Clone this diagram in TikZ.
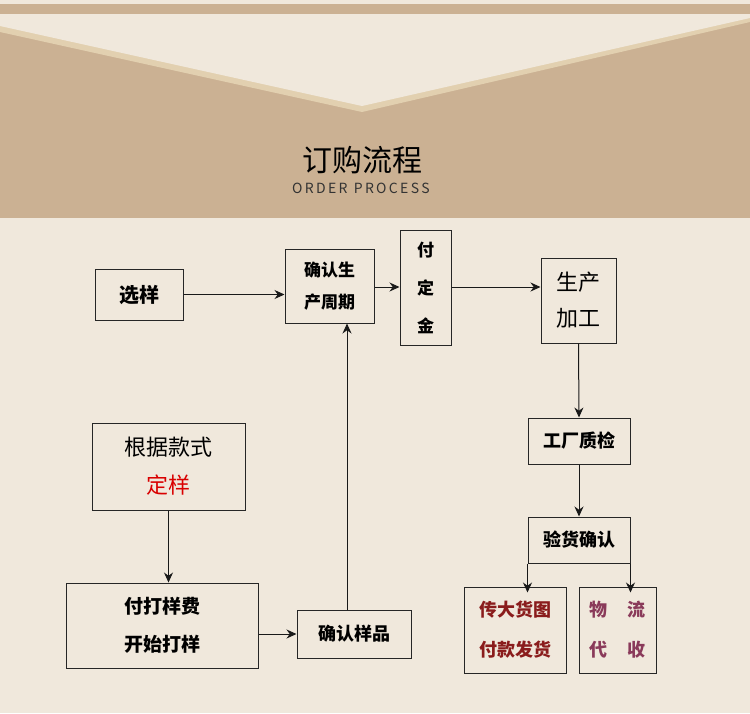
\documentclass[tikz,border=0pt]{standalone}
\usepackage{fontspec}
\setmainfont{Noto Sans CJK SC}
\usetikzlibrary{arrows.meta}
\definecolor{bg}{HTML}{F0E8DC}
\definecolor{tan}{HTML}{CBB193}
\definecolor{edge}{HTML}{E2D0B0}
\definecolor{dred}{HTML}{8A1C1C}
\definecolor{purp}{HTML}{8A3A5A}
\tikzset{
 bx/.style={draw=black!85,line width=1pt,inner sep=0pt,font=\fontsize{18}{22}\selectfont\bfseries,align=center},
 ar/.style={-{Stealth[length=10pt,width=9pt]},line width=1pt,black!90},
}
\begin{document}
\begin{tikzpicture}[x=1pt,y=-1pt]
\useasboundingbox (0,0) rectangle (750,713);
\fill[bg] (0,0) rectangle (750,713);
\fill[tan] (0,4) rectangle (750,218);
\fill[edge] (0,14) -- (750,14) -- (750,22) -- (362,112) -- (0,32) -- cycle;
\fill[bg] (0,14) -- (750,14) -- (750,18) -- (362,106) -- (0,26) -- cycle;
\fill[tan] (0,4) rectangle (750,10);
\node[font=\fontsize{30}{32}\selectfont] (t1) at (362,160) {订购流程};
\node[font=\fontsize{14}{15}\selectfont, black!80] (t2) at (361,188) {O\,R\,D\,E\,R\ \ P\,R\,O\,C\,E\,S\,S};

\node[bx,minimum width=88pt,minimum height=51pt,font=\fontsize{20}{22}\selectfont\bfseries] (xy) at (139,294.5) {选样};
\node[bx,minimum width=89pt,minimum height=74pt,font=\fontsize{17}{32}\selectfont\bfseries] (qr) at (329.5,286) {确认生\\产周期};
\node[bx,minimum width=51pt,minimum height=115pt,font=\fontsize{17}{38}\selectfont\bfseries] (fd) at (425.5,287.5) {付\\定\\金};
\node[bx,minimum width=75pt,minimum height=85pt,font=\fontsize{22}{36}\selectfont] (sc) at (578.5,300.5) {生产\\加工};
\node[bx,minimum width=102pt,minimum height=46pt] (zj) at (579,441) {工厂质检};
\node[bx,minimum width=102pt,minimum height=46pt] (yh) at (579,540) {验货确认};
\node[bx,minimum width=102pt,minimum height=86pt,text=dred,font=\fontsize{18}{40}\selectfont\bfseries] (cd) at (515,630) {传大货图\\付款发货};
\node[bx,minimum width=77pt,minimum height=86pt,text=purp,font=\fontsize{18}{40}\selectfont\bfseries] (wl) at (617.5,630) {物\hspace{1.1em}流\\代\hspace{1.1em}收};
\node[bx,minimum width=153pt,minimum height=87pt,font=\fontsize{22}{38}\selectfont\mdseries] (gj) at (168.5,466.5) {根据款式\\\textcolor{red!85!black}{定样}};
\node[bx,minimum width=192pt,minimum height=85pt,font=\fontsize{19}{38}\selectfont\bfseries] (fy) at (162,625.5) {付打样费\\开始打样};
\node[bx,minimum width=114pt,minimum height=48pt] (yp) at (354,634) {确认样品};

\draw[ar] (xy.east) -- (xy.east -| qr.west);
\draw[ar] (qr.east |- 0,287) -- (fd.west |- 0,287);
\draw[ar] (fd.east |- 0,287) -- (sc.west |- 0,287);
\draw[ar] (sc.south) -- (zj.north);
\draw[ar] (zj.south) -- (yh.north);
\draw[ar] (yh.south west) -- ([yshift=-6pt]yh.south west |- cd.north);
\draw[ar] (yh.south east) -- ([yshift=-6pt]yh.south east |- wl.north);
\draw[ar] (gj.south) -- (gj.south |- fy.north);
\draw[ar] (fy.east |- yp.west) -- (yp.west);
\draw[ar] (yp.north -| 347,0) -- (qr.south -| 347,0);
\end{tikzpicture}
\end{document}
